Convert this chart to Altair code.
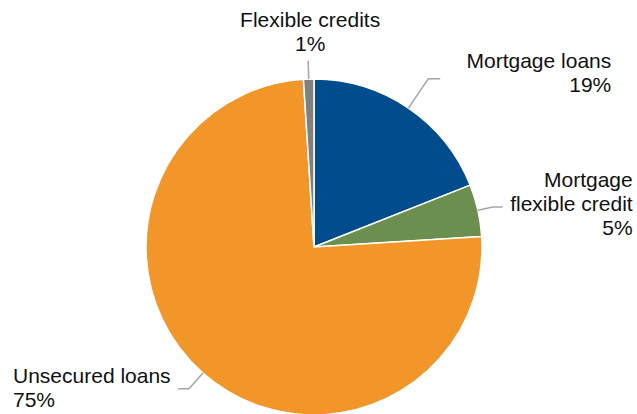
import math
import altair as alt
import pandas as pd

# ---- data ----
categories = ["Mortgage loans", "Mortgage flexible credit", "Unsecured loans", "Flexible credits"]
shares = [19, 5, 75, 1]
label_lines = [["Mortgage loans"], ["Mortgage", "flexible credit"], ["Unsecured loans"], ["Flexible credits"]]
colors = ["#004C8C", "#6A8F4E", "#F39629", "#808080"]

# ---- layout / style ----
W, H = 637, 414
CX, CY, R = 314, 247, 168
FONT = "Liberation Sans"
FS = 21
LH = 24
LINE_COLOR = "#A6A6A6"
style = {
    "Mortgage loans":           dict(k=1.21,  arm=12,  align="right",  dx=171,  dy=-11),
    "Mortgage flexible credit": dict(k=1.09,  arm=10,  align="right",  dx=130,  dy=-20),
    "Unsecured loans":          dict(k=1.125, arm=-11, align="left",   dx=-165, dy=-6),
    "Flexible credits":         dict(k=1.11,  arm=0,   align="center", dx=2,    dy=-33.5),
}

# ---- derived tables ----
total = sum(shares)
pie_rows, line_rows, text_rows = [], [], []
cum = 0.0
for i, (cat, v, lines) in enumerate(zip(categories, shares, label_lines)):
    a0 = cum / total * 2 * math.pi
    cum += v
    a1 = cum / total * 2 * math.pi
    mid = (a0 + a1) / 2
    pie_rows.append(dict(category=cat, share=v, idx=i))
    st = style[cat]
    sx, sy = CX + R * math.sin(mid), CY - R * math.cos(mid)
    ex, ey = CX + st["k"] * R * math.sin(mid), CY - st["k"] * R * math.cos(mid)
    fx, fy = ex + st["arm"], ey
    for j, (px, py) in enumerate([(sx, sy), (ex, ey), (fx, fy)]):
        line_rows.append(dict(category=cat, pt=j, x=(px - CX) / R, y=(CY - py) / R))
    all_lines = lines + [f"{v}%"]
    for j, t in enumerate(all_lines):
        tx = fx + st["dx"]
        ty = fy + st["dy"] + j * LH
        text_rows.append(dict(category=cat, text=t, align=st["align"],
                              x=(tx - CX) / R, y=(CY - ty) / R))

df_pie = pd.DataFrame(pie_rows)
df_lines = pd.DataFrame(line_rows)
df_text = pd.DataFrame(text_rows)

xs = alt.Scale(domain=[-CX / R, (W - CX) / R], nice=False, zero=False)
ys = alt.Scale(domain=[(CY - H) / R, CY / R], nice=False, zero=False)

pie = alt.Chart(df_pie).mark_arc(outerRadius=R, stroke="white", strokeWidth=1.5).encode(
    theta=alt.Theta("share:Q", stack=True),
    color=alt.Color("category:N", scale=alt.Scale(domain=categories, range=colors), legend=None),
    order=alt.Order("idx:Q"),
    x=alt.value(CX),
    y=alt.value(CY),
)

leaders = alt.Chart(df_lines).mark_line(color=LINE_COLOR, strokeWidth=1.5).encode(
    x=alt.X("x:Q", scale=xs, axis=None),
    y=alt.Y("y:Q", scale=ys, axis=None),
    detail="category:N",
    order="pt:Q",
)

text_layers = []
for al in ["left", "center", "right"]:
    text_layers.append(
        alt.Chart(df_text).transform_filter(alt.datum.align == al).mark_text(
            align=al, baseline="alphabetic", font=FONT, fontSize=FS, color="#111111"
        ).encode(
            x=alt.X("x:Q", scale=xs, axis=None),
            y=alt.Y("y:Q", scale=ys, axis=None),
            text="text:N",
        )
    )

chart = alt.layer(pie, leaders, *text_layers).properties(
    width=W, height=H, padding=0, autosize=alt.AutoSizeParams(type="none"), background="white"
).configure_view(stroke=None)

chart.save("out.html", embed_options={"renderer": "svg", "actions": False})
